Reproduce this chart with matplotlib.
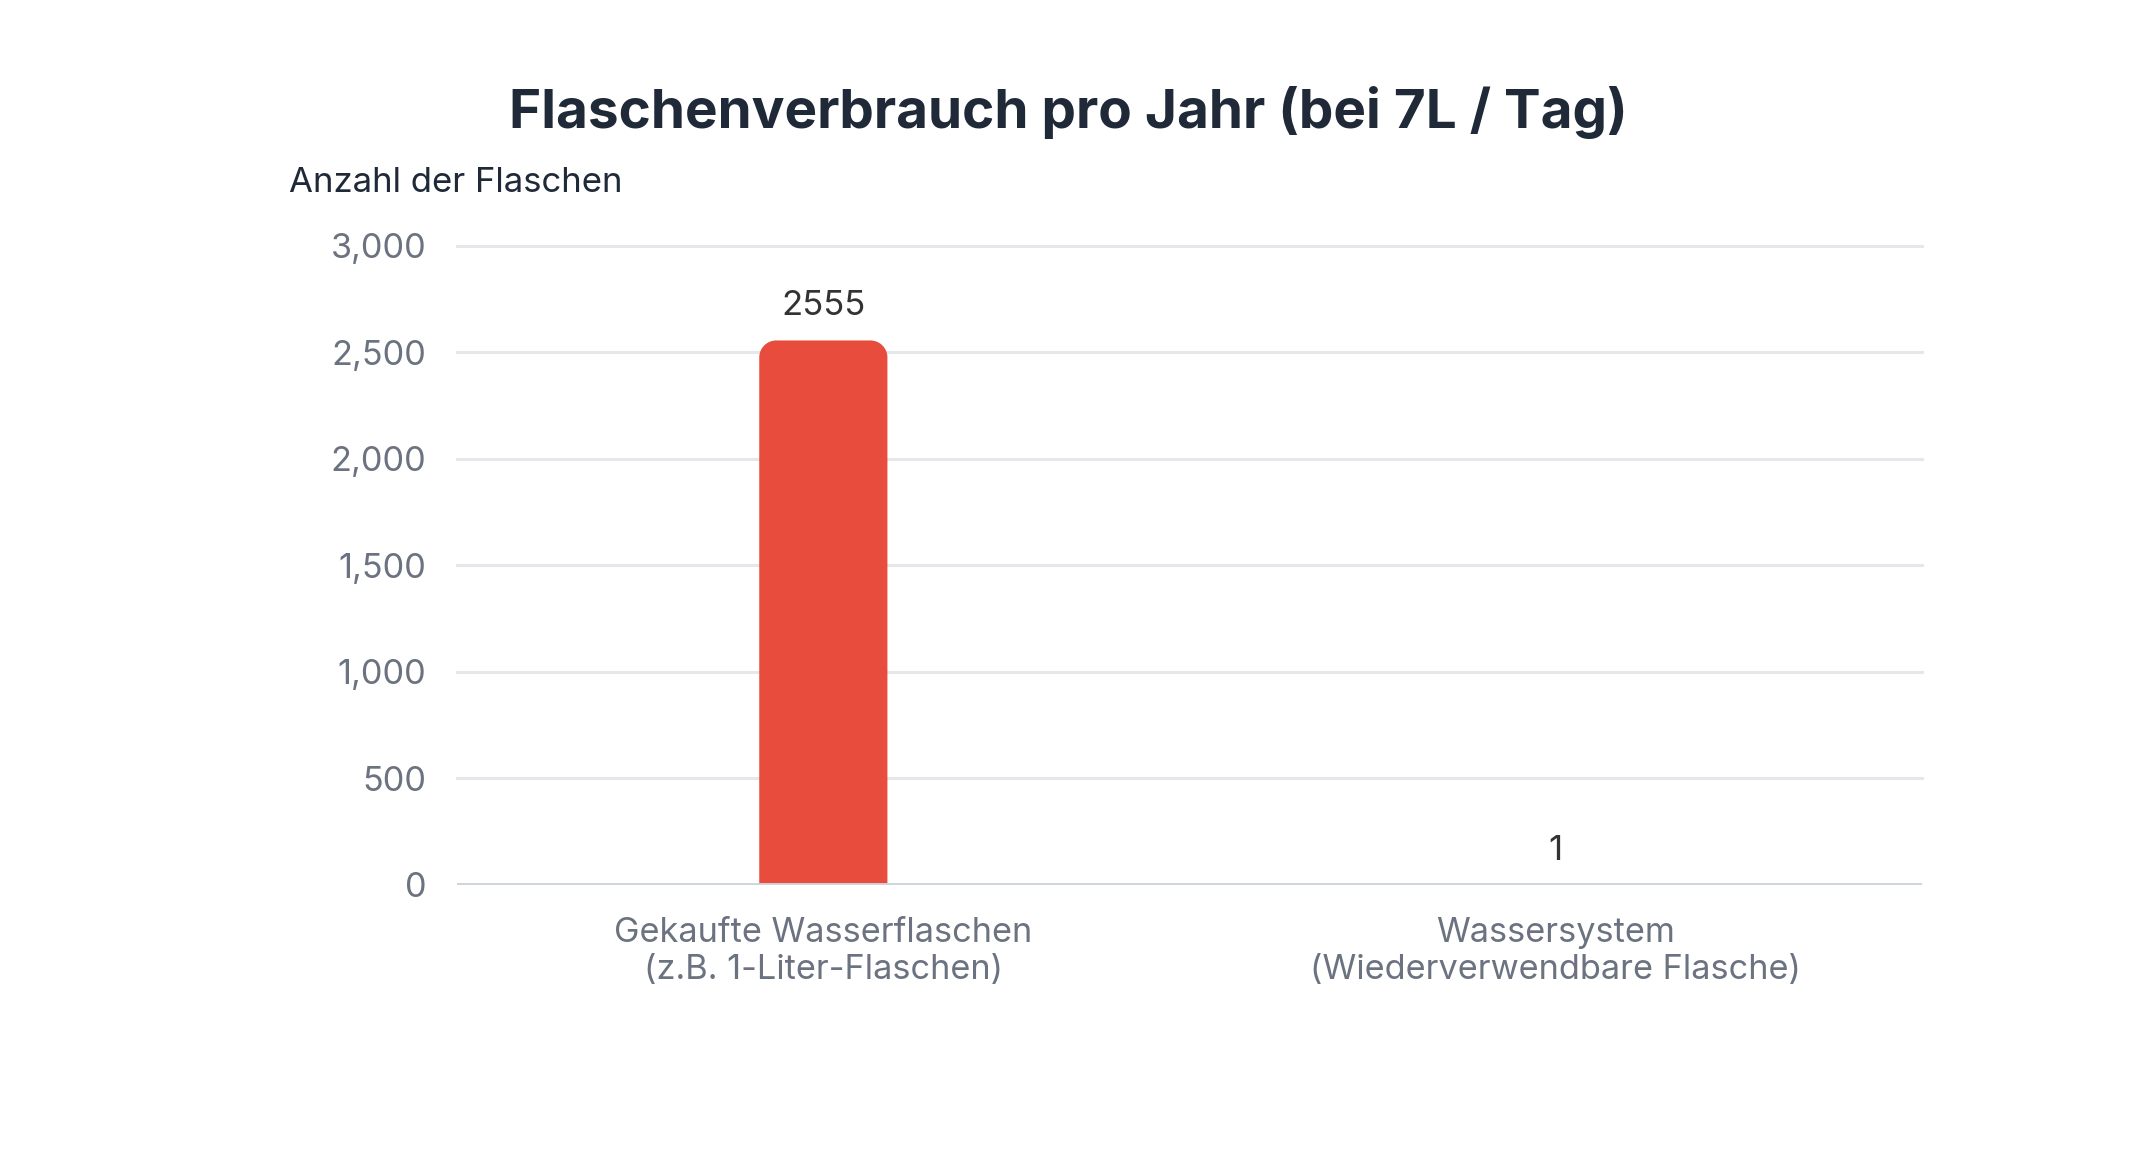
import matplotlib
matplotlib.use("Agg")
from matplotlib import pyplot as plt
from matplotlib.path import Path
from matplotlib.patches import PathPatch

plt.rcParams['font.family'] = ['Inter', 'DejaVu Sans']

kategorien = ["Gekaufte Wasserflaschen\n(z.B. 1-Liter-Flaschen)",
              "Wassersystem\n(Wiederverwendbare Flasche)"]
flaschen = [2555, 1]
farben = ['#e74c3c', '#2ecc71']
y_ticks = [0, 500, 1000, 1500, 2000, 2500, 3000]


def abgerundeter_balken(ax, x0, breite, hoehe, radius_px, farbe):
    # radius in pixel -> daten einheiten umrechnen
    inv = ax.transData.inverted()
    p0 = inv.transform((0, 0))
    p1 = inv.transform((radius_px, radius_px))
    rx = min(p1[0] - p0[0], breite / 2)
    ry = min(p1[1] - p0[1], hoehe)
    k = 0.5523
    x1 = x0 + breite
    verts = [(x0, 0), (x0, hoehe - ry),
             (x0, hoehe - ry + k * ry), (x0 + rx - k * rx, hoehe), (x0 + rx, hoehe),
             (x1 - rx, hoehe),
             (x1 - rx + k * rx, hoehe), (x1, hoehe - ry + k * ry), (x1, hoehe - ry),
             (x1, 0), (x0, 0)]
    codes = [Path.MOVETO, Path.LINETO,
             Path.CURVE4, Path.CURVE4, Path.CURVE4,
             Path.LINETO,
             Path.CURVE4, Path.CURVE4, Path.CURVE4,
             Path.LINETO, Path.CLOSEPOLY]
    ax.add_patch(PathPatch(Path(verts, codes), facecolor=farbe, edgecolor='none', zorder=3))


fig = plt.figure(figsize=(21.37, 11.63), dpi=100)
ax = fig.add_axes([0.2139, 0.2391, 0.6855, 0.5497])

ax.set_xlim(-0.5, 1.5)
ax.set_ylim(0, 3000)

bars = ax.bar(range(len(flaschen)), flaschen, width=0.175, color='none', edgecolor='none')
for b, f in zip(bars, farben):
    abgerundeter_balken(ax, b.get_x(), b.get_width(), b.get_height(), 17, f)

for i, v in enumerate(flaschen):
    ax.annotate(str(v), (i, v), xytext=(0, 13), textcoords='offset points',
                ha='center', va='bottom', fontsize=25, color='#333333')

ax.set_yticks(y_ticks)
ax.set_yticklabels([f"{t:,}" for t in y_ticks])
ax.set_xticks(range(len(kategorien)))
ax.set_xticklabels(kategorien, linespacing=1.2)
ax.tick_params(axis='y', length=0, pad=22, labelsize=24.7, labelcolor='#6b7280')
ax.tick_params(axis='x', length=0, pad=23, labelsize=24.7, labelcolor='#6b7280')

for t in y_ticks[1:]:
    ax.axhline(t, color='#e5e7eb', linewidth=2.2, zorder=1, clip_on=False)
ax.axhline(0, color='#cfd4db', linewidth=2.8, zorder=4)

for s in ax.spines.values():
    s.set_visible(False)

fig.text(0.1353, 0.843, "Anzahl der Flaschen", fontsize=25, color='#1f2937',
         ha='left', va='center')
fig.text(0.5, 0.903, "Flaschenverbrauch pro Jahr (bei 7L / Tag)", fontsize=39.5,
         fontweight='bold', color='#1f2937', ha='center', va='center')

fig.savefig('out.png', dpi=100, facecolor='white')
